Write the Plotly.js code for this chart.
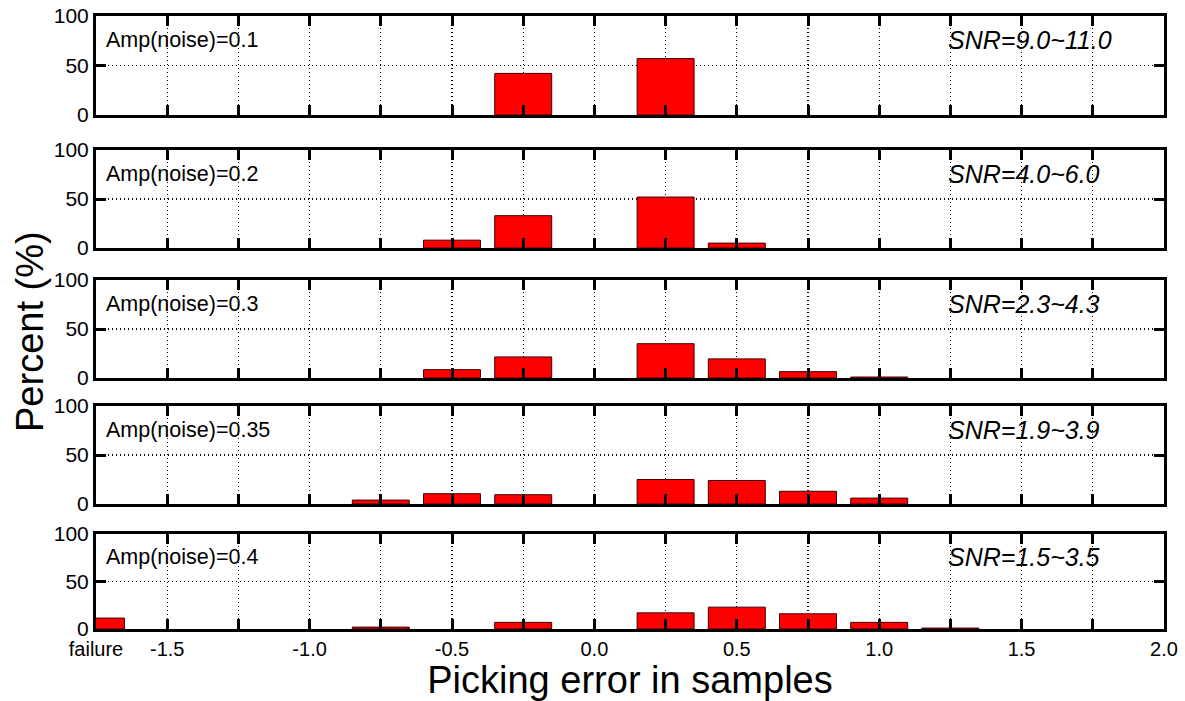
<!DOCTYPE html>
<html>
<head>
<meta charset="utf-8">
<script src="https://cdn.plot.ly/plotly-3.0.1.min.js"></script>
<style>html,body{margin:0;padding:0;background:#fff;}#chart{width:1185px;height:701px;}</style>
</head>
<body>
<div id="chart"></div>
<script>
// Bin centres (failure plotted at -1.75)
var binsX = [-1.75, -0.75, -0.5, -0.25, 0.25, 0.5, 0.75, 1.0, 1.25];
// Percent per bin for each noise amplitude (null = empty bin)
var p01  = [null, null, null, 42, 57, null, null, null, null];
var p02  = [null, null, 8, 33, 52, 5, null, null, null];
var p03  = [null, null, 8.5, 21.5, 35, 19.5, 6.5, 1, null];
var p035 = [null, 4, 10.5, 9.5, 25, 24, 13, 6, null];
var p04  = [11.5, 2, null, 7, 17, 23, 16, 7, 1];
var series = [p01, p02, p03, p035, p04];
var ampLabels = ['Amp(noise)=0.1', 'Amp(noise)=0.2', 'Amp(noise)=0.3', 'Amp(noise)=0.35', 'Amp(noise)=0.4'];
var snrLabels = ['SNR=9.0~11.0', 'SNR=4.0~6.0', 'SNR=2.3~4.3', 'SNR=1.9~3.9', 'SNR=1.5~3.5'];
var xTickVals = [-1.75, -1.5, -1.25, -1.0, -0.75, -0.5, -0.25, 0.0, 0.25, 0.5, 0.75, 1.0, 1.25, 1.5, 1.75, 2.0];
var xTickText = ['failure', '-1.5', '', '-1.0', '', '-0.5', '', '0.0', '', '0.5', '', '1.0', '', '1.5', '', '2.0'];
var yTickVals = [0, 50, 100];

(function () {
  var H = 701;
  var panelPx = [[16, 115], [150, 248], [280, 378], [406, 504], [534, 629]];
  var FONT = 'Liberation Sans, Arial, sans-serif';
  var GRIDDASH = '1px,3px';
  var data = [];
  var layout = {
    width: 1185, height: 701,
    margin: {l: 96, r: 21, t: 0, b: 0},
    paper_bgcolor: '#fff', plot_bgcolor: '#fff',
    showlegend: false, bargap: 0,
    font: {family: FONT, color: '#000'},
    annotations: []
  };
  for (var i = 0; i < 5; i++) {
    var n = i === 0 ? '' : String(i + 1);
    data.push({
      type: 'bar', x: binsX, y: series[i], width: 0.2,
      xaxis: 'x' + n, yaxis: 'y' + n,
      marker: {color: '#ff0000', line: {color: '#400000', width: 1}}
    });
    var pTop = panelPx[i][0], pBot = panelPx[i][1];
    layout['xaxis' + n] = {
      domain: [0, 1], anchor: 'y' + n, range: [-1.75, 2.0],
      tickmode: 'array', tickvals: xTickVals, ticktext: xTickText,
      showticklabels: i === 4,
      ticks: 'inside', ticklen: 10, tickwidth: 3, tickcolor: '#000',
      showline: true, linewidth: 3, linecolor: '#000', mirror: 'ticks',
      showgrid: true, gridcolor: '#000', gridwidth: 1.2, griddash: GRIDDASH,
      zeroline: false, fixedrange: true,
      tickfont: {family: FONT, size: 20, color: '#000'}
    };
    if (i === 4) {
      layout['xaxis' + n].title = {text: 'Picking error in samples', font: {family: FONT, size: 38, color: '#000'}, standoff: 6};
    }
    layout['yaxis' + n] = {
      domain: [1 - pBot / H, 1 - pTop / H], anchor: 'x' + n, range: [0, 100],
      tickmode: 'array', tickvals: yTickVals,
      ticks: 'inside', ticklen: 10, tickwidth: 3, tickcolor: '#000',
      showline: true, linewidth: 3, linecolor: '#000', mirror: 'ticks',
      showgrid: true, gridcolor: '#000', gridwidth: 1.2, griddash: GRIDDASH,
      zeroline: false, fixedrange: true,
      tickfont: {family: FONT, size: 21, color: '#000'}
    };
    layout.annotations.push({
      xref: 'x' + n + ' domain', yref: 'y' + n + ' domain',
      x: 0.0075, y: 0.755, xanchor: 'left', yanchor: 'middle',
      text: ampLabels[i], showarrow: false,
      font: {family: FONT, size: 21.5, color: '#000'}
    });
    layout.annotations.push({
      xref: 'x' + n + ' domain', yref: 'y' + n + ' domain',
      x: 0.796, y: 0.755, xanchor: 'left', yanchor: 'middle',
      text: '<i>' + snrLabels[i] + '</i>', showarrow: false,
      font: {family: FONT, size: 25, color: '#000'}
    });
  }
  layout.annotations.push({
    xref: 'paper', yref: 'paper', x: -0.0618, y: 1 - 331 / H,
    xanchor: 'center', yanchor: 'middle', textangle: -90,
    text: 'Percent (%)', showarrow: false,
    font: {family: FONT, size: 38, color: '#000'}
  });
  Plotly.newPlot('chart', data, layout, {displayModeBar: false, staticPlot: true});
})();
</script>
</body>
</html>
